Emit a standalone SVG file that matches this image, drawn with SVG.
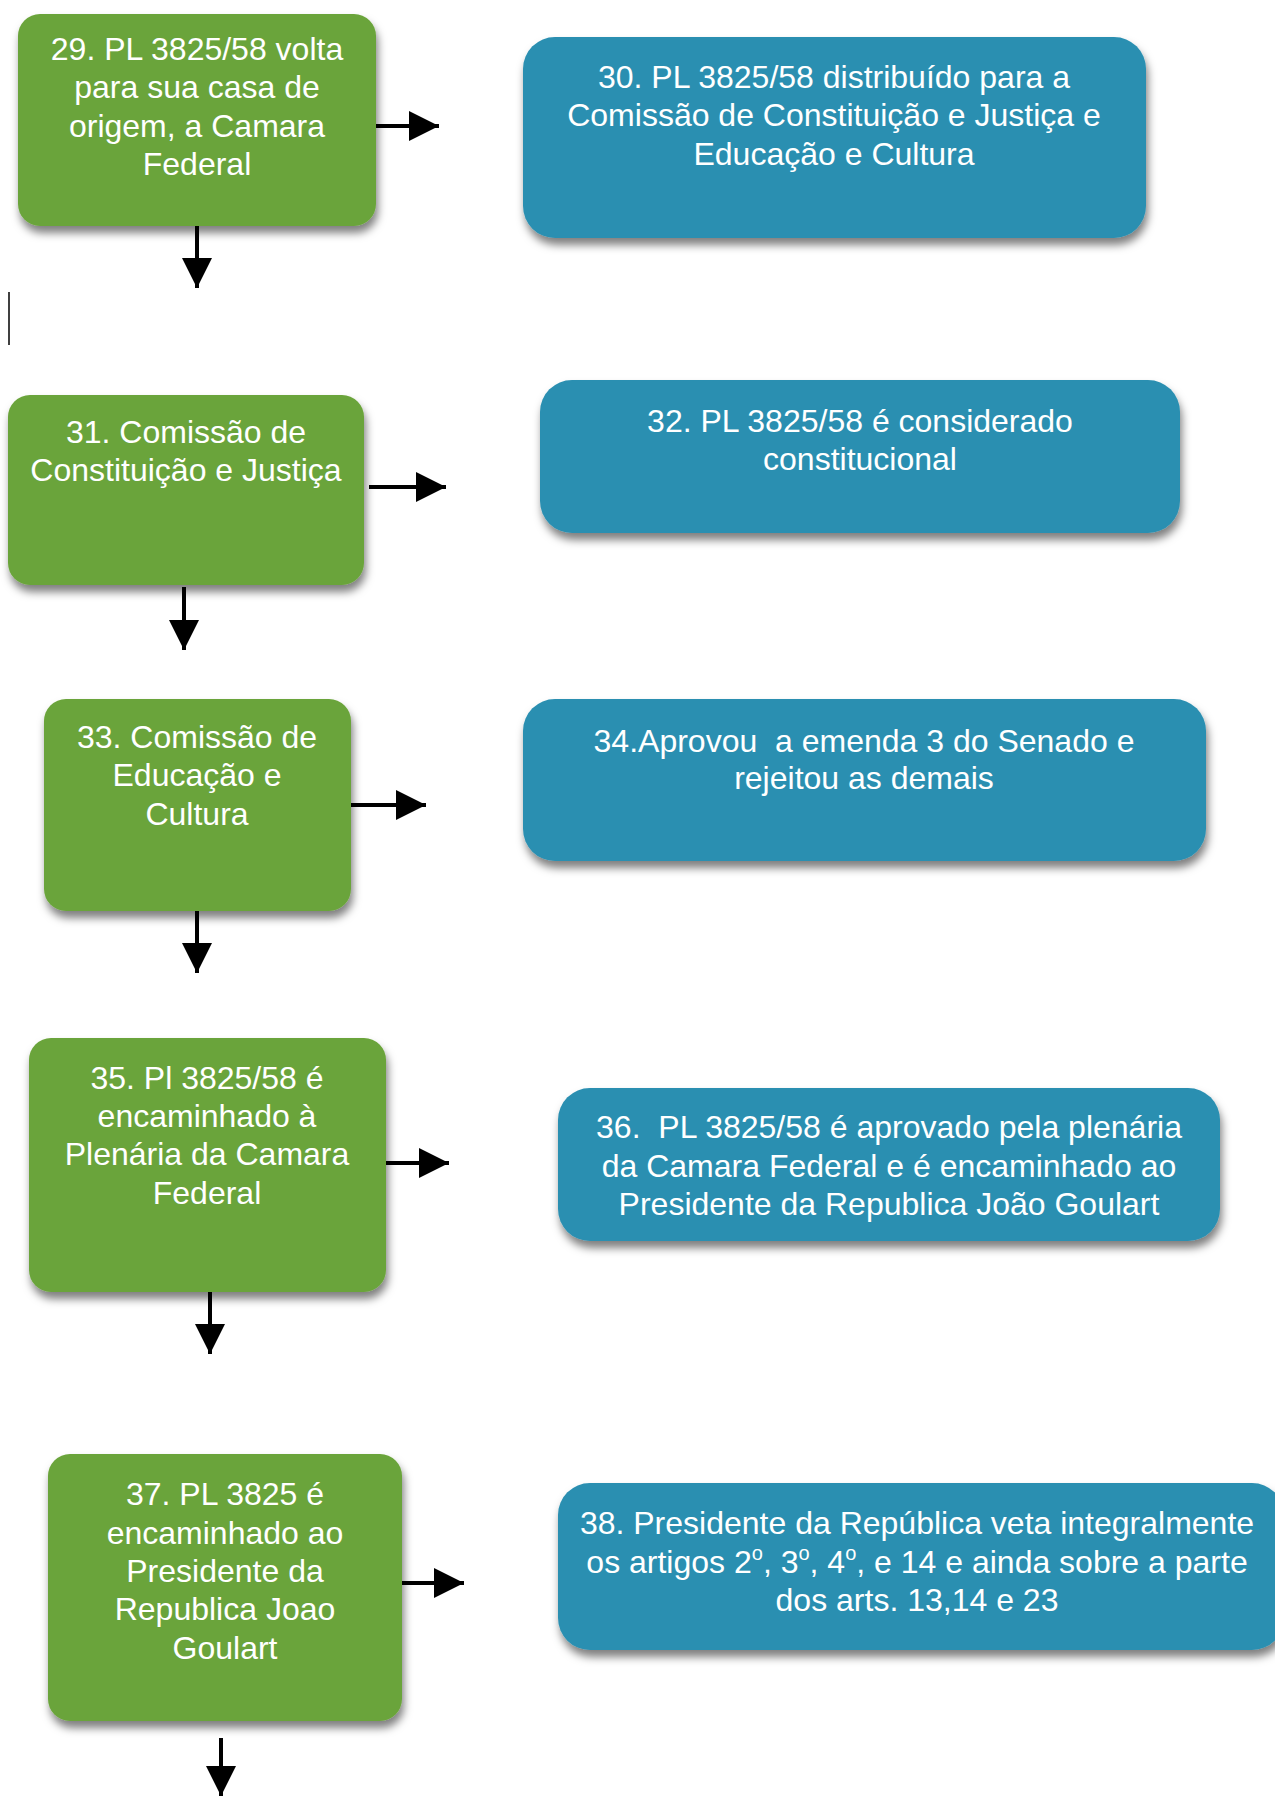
<svg xmlns="http://www.w3.org/2000/svg" width="1275" height="1796" viewBox="0 0 1275 1796">
<style>
.g{fill:#6ba43b}
.b{fill:#2b8fb1}
.t{font-family:"Liberation Sans",Arial,sans-serif;font-size:32px;fill:#ffffff;text-anchor:middle}
.c{stroke:#000;stroke-width:4;fill:none}
</style>
<defs>
<filter id="sh" x="-10%" y="-10%" width="125%" height="130%">
<feDropShadow dx="2" dy="7" stdDeviation="4" flood-color="#000" flood-opacity="0.5"/>
</filter>
<marker id="ah" viewBox="0 0 10 10" refX="10" refY="5" markerWidth="7.5" markerHeight="7.5" orient="auto" markerUnits="strokeWidth">
<path d="M0,0 L10,5 L0,10 Z" fill="#000"/>
</marker>
</defs>
<rect width="1275" height="1796" fill="#ffffff"/>

<g id="node29">
<rect class="g" x="18" y="14" width="358" height="212" rx="22" filter="url(#sh)"/>
<text class="t" x="197"><tspan x="197" y="60">29. PL 3825/58 volta</tspan><tspan x="197" y="98">para sua casa de</tspan><tspan x="197" y="137">origem, a Camara</tspan><tspan x="197" y="175">Federal</tspan></text>
</g>
<g id="node30">
<rect class="b" x="523" y="37" width="623" height="201" rx="32" filter="url(#sh)"/>
<text class="t"><tspan x="834" y="88">30. PL 3825/58 distribuído para a</tspan><tspan x="834" y="126">Comissão de Constituição e Justiça e</tspan><tspan x="834" y="165">Educação e Cultura</tspan></text>
</g>
<g id="node31">
<rect class="g" x="8" y="395" width="356" height="190" rx="22" filter="url(#sh)"/>
<text class="t"><tspan x="186" y="443">31. Comissão de</tspan><tspan x="186" y="481">Constituição e Justiça</tspan></text>
</g>
<g id="node32">
<rect class="b" x="540" y="380" width="640" height="153" rx="32" filter="url(#sh)"/>
<text class="t"><tspan x="860" y="432">32. PL 3825/58 é considerado</tspan><tspan x="860" y="470">constitucional</tspan></text>
</g>
<g id="node33">
<rect class="g" x="44" y="699" width="307" height="212" rx="22" filter="url(#sh)"/>
<text class="t"><tspan x="197" y="748">33. Comissão de</tspan><tspan x="197" y="786">Educação e</tspan><tspan x="197" y="825">Cultura</tspan></text>
</g>
<g id="node34">
<rect class="b" x="523" y="699" width="683" height="162" rx="32" filter="url(#sh)"/>
<text class="t" xml:space="preserve"><tspan x="864" y="752">34.Aprovou  a emenda 3 do Senado e</tspan><tspan x="864" y="789">rejeitou as demais</tspan></text>
</g>
<g id="node35">
<rect class="g" x="29" y="1038" width="357" height="254" rx="22" filter="url(#sh)"/>
<text class="t"><tspan x="207" y="1089">35. Pl 3825/58 é</tspan><tspan x="207" y="1127">encaminhado à</tspan><tspan x="207" y="1165">Plenária da Camara</tspan><tspan x="207" y="1204">Federal</tspan></text>
</g>
<g id="node36">
<rect class="b" x="558" y="1088" width="662" height="153" rx="32" filter="url(#sh)"/>
<text class="t" xml:space="preserve"><tspan x="889" y="1138">36.  PL 3825/58 é aprovado pela plenária</tspan><tspan x="889" y="1177">da Camara Federal e é encaminhado ao</tspan><tspan x="889" y="1215">Presidente da Republica João Goulart</tspan></text>
</g>
<g id="node37">
<rect class="g" x="48" y="1454" width="354" height="267" rx="22" filter="url(#sh)"/>
<text class="t"><tspan x="225" y="1505">37. PL 3825 é</tspan><tspan x="225" y="1544">encaminhado ao</tspan><tspan x="225" y="1582">Presidente da</tspan><tspan x="225" y="1620">Republica Joao</tspan><tspan x="225" y="1659">Goulart</tspan></text>
</g>
<g id="node38">
<rect class="b" x="558" y="1483" width="726" height="167" rx="32" filter="url(#sh)"/>
<text class="t"><tspan x="917" y="1534">38. Presidente da República veta integralmente</tspan><tspan x="917" y="1573">os artigos 2<tspan font-size="20" dy="-13">o</tspan><tspan dy="13">, 3</tspan><tspan font-size="20" dy="-13">o</tspan><tspan dy="13">, 4</tspan><tspan font-size="20" dy="-13">o</tspan><tspan dy="13">, e 14 e ainda sobre a parte</tspan></tspan><tspan x="917" y="1611">dos arts. 13,14 e 23</tspan></text>
</g>

<g id="connectors">
<line class="c" x1="376" y1="126" x2="439" y2="126" marker-end="url(#ah)"/>
<line class="c" x1="197" y1="226" x2="197" y2="288" marker-end="url(#ah)"/>
<line class="c" x1="369" y1="487" x2="446" y2="487" marker-end="url(#ah)"/>
<line class="c" x1="184" y1="587" x2="184" y2="650" marker-end="url(#ah)"/>
<line class="c" x1="351" y1="805" x2="426" y2="805" marker-end="url(#ah)"/>
<line class="c" x1="197" y1="911" x2="197" y2="973" marker-end="url(#ah)"/>
<line class="c" x1="386" y1="1163" x2="449" y2="1163" marker-end="url(#ah)"/>
<line class="c" x1="210" y1="1292" x2="210" y2="1354" marker-end="url(#ah)"/>
<line class="c" x1="402" y1="1583" x2="464" y2="1583" marker-end="url(#ah)"/>
<line class="c" x1="221" y1="1738" x2="221" y2="1796" marker-end="url(#ah)"/>
</g>
<line x1="9" y1="292" x2="9" y2="345" stroke="#000" stroke-width="1.5"/>
</svg>
